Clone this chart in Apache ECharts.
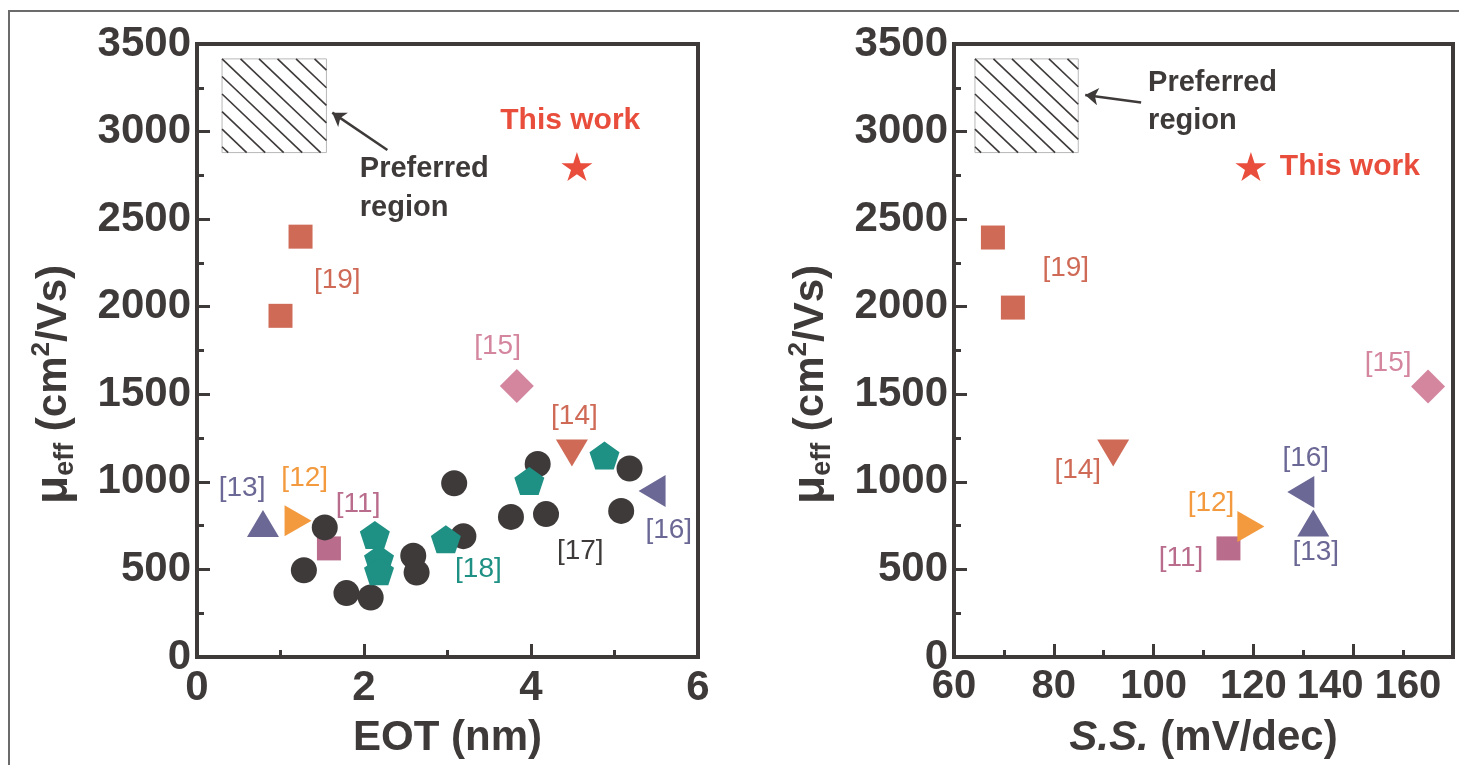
<!DOCTYPE html>
<html>
<head>
<meta charset="utf-8">
<style>
  html, body { margin: 0; padding: 0; background: #fff; }
  #chart { width: 1459px; height: 765px; }
</style>
<script src="https://cdn.jsdelivr.net/npm/echarts@6/dist/echarts.min.js"></script>
</head>
<body>
<div id="chart"></div>
<script>
  // left panel: EOT (nm) vs mobility (cm2/Vs)
  var eotRef11 = [[1.58, 620]];
  var eotRef12 = [[1.21, 778]];
  var eotRef13 = [[0.79, 762]];
  var eotRef14 = [[4.49, 1165]];
  var eotRef15 = [[3.83, 1548]];
  var eotRef16 = [[5.45, 948]];
  var eotRef17 = [[1.28, 495], [1.53, 740], [1.79, 365], [2.08, 340], [2.59, 578], [2.63, 482],
                  [3.08, 992], [3.19, 690], [3.76, 800], [4.08, 1102], [4.18, 816], [5.08, 834], [5.18, 1076]];
  var eotRef18 = [[2.13, 697], [2.18, 560], [2.18, 490], [2.98, 672], [3.98, 1005], [4.88, 1150]];
  var eotRef19 = [[1.24, 2400], [1.0, 1948]];
  var eotThisWork = [[4.55, 2800]];

  // right panel: S.S. (mV/dec) vs mobility
  var ssRef11 = [[115, 620]];
  var ssRef12 = [[119.5, 745]];
  var ssRef13 = [[132, 765]];
  var ssRef14 = [[91.9, 1165]];
  var ssRef15 = [[155, 1545]];
  var ssRef16 = [[129.5, 942]];
  var ssRef19 = [[67.8, 2395], [71.8, 1995]];
  var ssThisWork = [[119.5, 2800]];

  // preferred region [xMin, yMin, xMax, yMax] and arrows [from, to]
  var eotPreferred = [0.3, 2880, 1.55, 3415];
  var ssPreferred = [64.2, 2880, 84.9, 3415];
  var eotArrow = [[2.28, 2895], [1.62, 3108]];
  var ssArrow = [[97.5, 3166], [86.3, 3209]];

  // reference tags and where they sit
  var eotTagText = ['[19]', '[15]', '[14]', '[13]', '[12]', '[11]', '[18]', '[17]', '[16]'];
  var eotTagPos = [[1.68, 2153], [3.60, 1776], [4.52, 1376], [0.54, 963], [1.29, 1022],
                   [1.93, 874], [3.37, 503], [4.59, 605], [5.65, 725]];
  var ssTagText = ['[19]', '[14]', '[15]', '[16]', '[12]', '[11]', '[13]'];
  var ssTagPos = [[82.4, 2222], [84.8, 1068], [147, 1679], [130.5, 1136], [111.5, 880],
                  [105.5, 565], [132.5, 600]];
  var eotNotePos = [[1.95, 2787], [1.95, 2564], [4.47, 3061]];
  var ssNotePos = [[98.9, 3278], [98.9, 3061], [125.3, 2798]];
  var noteText = ['Preferred', 'region', 'This work'];

  // axes [min, max, interval]
  var muAxis = [0, 3500, 500];
  var eotAxis = [0, 6, 2];
  var ssAxis = [60, 160, 20];

  var dark = '#3E3A39';
  var red = '#E94E3D';
  var tagColor = {
    '[11]': '#B96C8B', '[12]': '#F39A3F', '[13]': '#6B6895', '[14]': '#CF6A57', '[15]': '#D4869F',
    '[16]': '#6B6895', '[17]': '#3E3A39', '[18]': '#1E9084', '[19]': '#CF6A57'
  };
  var FONT = '"Liberation Sans", Arial, Helvetica, sans-serif';
  var pentagon = 'path://M50,0 L97.6,34.5 L79.4,90.5 L20.6,90.5 L2.4,34.5 Z';
  var star = 'path://M50,0 L61.8,36.2 L100,36.2 L69.1,58.6 L80.9,95.1 L50,72.7 L19.1,95.1 L30.9,58.6 L0,36.2 L38.2,36.2 Z';

  var chart = echarts.init(document.getElementById('chart'));

  function pts(data, g, symbol, size, color, rotate) {
    return {
      type: 'scatter', xAxisIndex: g, yAxisIndex: g, data: data, silent: true,
      symbol: symbol, symbolSize: size, symbolRotate: rotate || 0,
      itemStyle: { color: color, opacity: 1 },
      z: 3
    };
  }

  function tags(texts, pos, g) {
    return {
      type: 'scatter', xAxisIndex: g, yAxisIndex: g, silent: true, symbolSize: 1, z: 5,
      itemStyle: { color: 'transparent', opacity: 1 },
      label: { show: true, position: 'inside', fontFamily: FONT, fontSize: 28, opacity: 1 },
      data: texts.map(function (t, i) {
        return { value: pos[i], label: { formatter: t, color: tagColor[t] } };
      })
    };
  }

  function notes(pos, g, thisWorkAlign) {
    return {
      type: 'scatter', xAxisIndex: g, yAxisIndex: g, silent: true, symbolSize: 1, z: 5,
      itemStyle: { color: 'transparent', opacity: 1 },
      label: { show: true, position: 'inside', fontFamily: FONT, fontWeight: 'bold', fontSize: 29,
               align: 'left', opacity: 1 },
      data: noteText.map(function (t, i) {
        var lab = { formatter: t, color: dark };
        if (i === 2) {
          lab.color = red;
          lab.fontSize = 30;
          lab.align = thisWorkAlign;
        }
        return { value: pos[i], label: lab };
      })
    };
  }

  function hatchItem(params, api) {
    var p0 = api.coord([api.value(0), api.value(3)]);
    var p1 = api.coord([api.value(2), api.value(1)]);
    var x = p0[0], y = p0[1], w = p1[0] - p0[0], h = p1[1] - p0[1];
    var kids = [{ type: 'rect', shape: { x: x, y: y, width: w, height: h },
                  style: { fill: '#fff', stroke: '#b8b8b8', lineWidth: 1 } }];
    var step = 18.5, k = 0.95;
    var cStart = -Math.floor(h / k / step) * step;
    for (var c = cStart; c < w; c += step) {
      var t0 = Math.max(0, -c), t1 = Math.min(w - c, h / k);
      if (t1 > t0) {
        kids.push({ type: 'line',
          shape: { x1: x + c + t0, y1: y + k * t0, x2: x + c + t1, y2: y + k * t1 },
          style: { stroke: dark, lineWidth: 1.6 } });
      }
    }
    return { type: 'group', children: kids };
  }

  function hatch(box, g) {
    return { type: 'custom', xAxisIndex: g, yAxisIndex: g, silent: true, z: 2,
             renderItem: hatchItem, data: [box] };
  }

  function arrow(coords, g) {
    return {
      type: 'lines', coordinateSystem: 'cartesian2d', xAxisIndex: g, yAxisIndex: g, silent: true, z: 4,
      symbol: ['none', 'arrow'], symbolSize: [0, 13],
      lineStyle: { color: dark, width: 2.5, opacity: 1 },
      data: [{ coords: coords }]
    };
  }

  var muName = '{mu|μ}{sub|eff}{n| (cm}{sup|2}{n|/Vs)}';
  var muRich = {
    mu: { fontFamily: FONT, fontWeight: 'bold', fontSize: 46, color: dark, lineHeight: 50 },
    n: { fontFamily: FONT, fontWeight: 'bold', fontSize: 42, color: dark, lineHeight: 50 },
    sub: { fontFamily: FONT, fontWeight: 'bold', fontSize: 27, color: dark, lineHeight: 26, verticalAlign: 'bottom' },
    sup: { fontFamily: FONT, fontWeight: 'bold', fontSize: 26, color: dark, lineHeight: 26, verticalAlign: 'top' }
  };

  function axisBase(range) {
    return {
      type: 'value', min: range[0], max: range[1], interval: range[2],
      axisLine: { show: true, lineStyle: { color: dark, width: 4 } },
      axisTick: { show: true, inside: true, length: 13, lineStyle: { color: dark, width: 3 } },
      minorTick: { show: true, splitNumber: 2, length: 7, lineStyle: { color: dark, width: 3 } },
      splitLine: { show: false },
      axisLabel: { fontFamily: FONT, fontWeight: 'bold', fontSize: 42, color: dark,
                   formatter: function (v) { return String(v); } },
      nameTextStyle: { fontFamily: FONT, fontWeight: 'bold', fontSize: 42, color: dark }
    };
  }

  var xL = axisBase(eotAxis);
  xL.gridIndex = 0;
  xL.name = 'EOT (nm)';
  xL.nameLocation = 'middle';
  xL.nameGap = 60;
  xL.axisLabel.margin = 10;

  var xR = axisBase(ssAxis);
  xR.gridIndex = 1;
  xR.name = '{i|S.S.}{b| (mV/dec)}';
  xR.nameLocation = 'middle';
  xR.nameGap = 60;
  xR.nameTextStyle.rich = {
    i: { fontFamily: FONT, fontWeight: 'bold', fontStyle: 'italic', fontSize: 42, color: dark },
    b: { fontFamily: FONT, fontWeight: 'bold', fontSize: 42, color: dark }
  };
  xR.axisLabel.margin = 10;
  xR.axisLabel.formatter = function (v) {
    if (v === 140) return '{a|140}';
    if (v === 160) return '{b|160}';
    return '{n|' + v + '}';
  };
  var tickFont = { fontFamily: FONT, fontWeight: 'bold', fontSize: 40, color: dark };
  xR.axisLabel.rich = {
    n: tickFont,
    a: Object.assign({ padding: [0, 46, 0, 0] }, tickFont),
    b: Object.assign({ padding: [0, 90, 0, 0] }, tickFont)
  };

  function yAxis(g) {
    var a = axisBase(muAxis);
    a.gridIndex = g;
    a.name = muName;
    a.nameLocation = 'middle';
    a.nameGap = 118;
    a.nameTextStyle.rich = muRich;
    a.nameTextStyle.padding = [0, 68, 0, 0];
    a.axisLabel.margin = 6;
    return a;
  }

  var option = {
    backgroundColor: '#fff',
    animation: false,
    graphic: [{
      type: 'rect', z: -10, silent: true,
      shape: { x: 9, y: 11, width: 1470, height: 780 },
      style: { fill: 'none', stroke: '#6b6b6b', lineWidth: 2 }
    }],
    grid: [
      { left: 197, top: 44, width: 501, height: 613, show: true, borderColor: dark, borderWidth: 4, backgroundColor: 'transparent' },
      { left: 954, top: 44, width: 499, height: 613, show: true, borderColor: dark, borderWidth: 4, backgroundColor: 'transparent' }
    ],
    xAxis: [xL, xR],
    yAxis: [yAxis(0), yAxis(1)],
    series: [
      hatch(eotPreferred, 0),
      arrow(eotArrow, 0),
      pts(eotRef11, 0, 'rect', 24, tagColor['[11]']),
      pts(eotRef12, 0, 'triangle', [31, 27], tagColor['[12]'], -90),
      pts(eotRef13, 0, 'triangle', [32, 27], tagColor['[13]']),
      pts(eotRef17, 0, 'circle', 26, tagColor['[17]']),
      pts(eotRef18, 0, pentagon, [30, 28], tagColor['[18]']),
      pts(eotRef14, 0, 'triangle', [32, 27], tagColor['[14]'], 180),
      pts(eotRef15, 0, 'diamond', [34, 34], tagColor['[15]']),
      pts(eotRef16, 0, 'triangle', [32, 27], tagColor['[16]'], 90),
      pts(eotRef19, 0, 'rect', 24, tagColor['[19]']),
      pts(eotThisWork, 0, star, [31, 29], red),
      tags(eotTagText, eotTagPos, 0),
      notes(eotNotePos, 0, 'center'),

      hatch(ssPreferred, 1),
      arrow(ssArrow, 1),
      pts(ssRef11, 1, 'rect', 24, tagColor['[11]']),
      pts(ssRef12, 1, 'triangle', [31, 27], tagColor['[12]'], -90),
      pts(ssRef13, 1, 'triangle', [32, 27], tagColor['[13]']),
      pts(ssRef14, 1, 'triangle', [32, 27], tagColor['[14]'], 180),
      pts(ssRef15, 1, 'diamond', [34, 34], tagColor['[15]']),
      pts(ssRef16, 1, 'triangle', [32, 27], tagColor['[16]'], 90),
      pts(ssRef19, 1, 'rect', 24, tagColor['[19]']),
      pts(ssThisWork, 1, star, [31, 29], red),
      tags(ssTagText, ssTagPos, 1),
      notes(ssNotePos, 1, 'left')
    ]
  };
  chart.setOption(option);
</script>
</body>
</html>
